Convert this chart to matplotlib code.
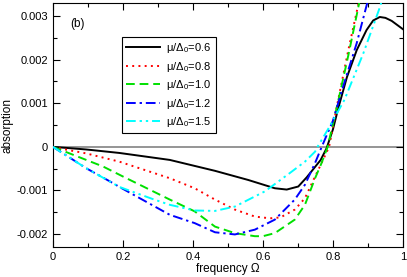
import matplotlib
matplotlib.use("Agg")
import matplotlib.pyplot as plt
from matplotlib.ticker import MultipleLocator, FuncFormatter

plt.rcParams['font.family'] = ['Liberation Sans', 'DejaVu Sans']
plt.rcParams['mathtext.fontset'] = 'custom'
plt.rcParams['mathtext.rm'] = 'Liberation Sans'
plt.rcParams['mathtext.it'] = 'Liberation Sans:italic'
plt.rcParams['axes.unicode_minus'] = False

labels = ['0.6', '0.8', '1.0', '1.2', '1.5']

x_06 = [0, 0.095, 0.19, 0.334, 0.463, 0.558, 0.634, 0.668, 0.701, 0.725, 0.745,
        0.765, 0.782, 0.80, 0.815, 0.84, 0.868, 0.896, 0.915, 0.934, 0.95, 0.968, 1.0]
y_06 = [0, -0.00006, -0.00014, -0.0003, -0.00055, -0.00076, -0.00095, -0.00098,
        -0.00091, -0.0007, -0.0005, -0.0003, -0.00003, 0.0004, 0.00088, 0.0016,
        0.00222, 0.00268, 0.0029, 0.00298, 0.00296, 0.00289, 0.0027]

x_08 = [0, 0.029, 0.095, 0.19, 0.334, 0.405, 0.463, 0.52, 0.577, 0.62, 0.65, 0.691,
        0.72, 0.749, 0.77, 0.789, 0.815, 0.844, 0.872, 0.88]
y_08 = [0, -0.00005, -0.00015, -0.00034, -0.00072, -0.00095, -0.00121, -0.00144,
        -0.0016, -0.00164, -0.00162, -0.00144, -0.00118, -0.00068, -0.00033, 0.0,
        0.00108, 0.00222, 0.00325, 0.0036]

x_10 = [0, 0.057, 0.143, 0.2, 0.334, 0.405, 0.463, 0.52, 0.577, 0.6, 0.634, 0.691,
        0.72, 0.749, 0.766, 0.785, 0.815, 0.844, 0.875, 0.885]
y_10 = [0, -0.00018, -0.00045, -0.00068, -0.00121, -0.00148, -0.00183, -0.00198,
        -0.00205, -0.00205, -0.00198, -0.00167, -0.00133, -0.00072, -0.0004, 0.0,
        0.00105, 0.0021, 0.0033, 0.0036]

x_12 = [0, 0.029, 0.095, 0.171, 0.19, 0.334, 0.405, 0.463, 0.52, 0.577, 0.634,
        0.691, 0.72, 0.749, 0.768, 0.80, 0.829, 0.868, 0.898, 0.905]
y_12 = [0, -0.00015, -0.00049, -0.00083, -0.00092, -0.00156, -0.00175, -0.00196,
        -0.00201, -0.0019, -0.00167, -0.00121, -0.00087, -0.00037, 0.0, 0.0006,
        0.00138, 0.00238, 0.0033, 0.0035]

x_15 = [0, 0.029, 0.095, 0.19, 0.286, 0.334, 0.405, 0.463, 0.52, 0.606, 0.677,
        0.72, 0.749, 0.756, 0.785, 0.833, 0.887, 0.934, 0.945]
y_15 = [0, -0.00015, -0.00049, -0.00092, -0.0012, -0.00133, -0.00146, -0.00147,
        -0.00137, -0.00102, -0.0006, -0.00034, -0.00011, 0.0, 0.00039, 0.00108,
        0.00215, 0.0032, 0.0035]

fig = plt.figure(figsize=(4.07, 2.77), dpi=100)
ax = fig.add_axes([0.130, 0.108, 0.860, 0.881])

ax.axhline(0, color='#8c8c8c', lw=1.3, zorder=1)

styles = [
    (x_06, y_06, 'black', '-'),
    (x_08, y_08, 'red', (0, (1, 2.2))),
    (x_10, y_10, '#00e000', (0, (4.5, 2.5))),
    (x_12, y_12, 'blue', (0, (5, 2, 1.2, 2))),
    (x_15, y_15, 'cyan', (0, (5, 2, 1.2, 2, 1.2, 2))),
]
for (xs, ys, c, ls), lab in zip(styles, labels):
    ax.plot(xs, ys, color=c, ls=ls, lw=1.4,
            label=r'μ/Δ$_0$=' + lab, zorder=3)

ax.set_xlim(0, 1)
ax.set_ylim(-0.0023, 0.0033)
ax.xaxis.set_major_locator(MultipleLocator(0.2))
ax.xaxis.set_minor_locator(MultipleLocator(0.1))
ax.yaxis.set_major_locator(MultipleLocator(0.001))
ax.yaxis.set_minor_locator(MultipleLocator(0.0005))
ax.xaxis.set_major_formatter(FuncFormatter(lambda v, p: '0' if abs(v) < 1e-9 else ('1' if abs(v - 1) < 1e-9 else f'{v:.1f}')))
ax.yaxis.set_major_formatter(FuncFormatter(lambda v, p: '0' if abs(v) < 1e-9 else f'{v:.3f}'))
ax.tick_params(which='both', direction='in', top=True, right=True, labelsize=8)
ax.tick_params(which='major', length=5, width=0.8)
ax.tick_params(which='minor', length=3, width=0.8)

ax.set_xlabel('frequency Ω', fontsize=8.5, labelpad=1)
ax.set_ylabel('absorption', fontsize=8.5, labelpad=2)

ax.text(0.071, 0.00282, '(b)', fontsize=8.5, ha='center', va='center')

leg = ax.legend(loc='upper left', bbox_to_anchor=(0.197, 0.862), fontsize=8,
                frameon=True, fancybox=False, edgecolor='black', framealpha=1,
                handlelength=3.0, labelspacing=0.4, borderpad=0.4, handletextpad=0.6,
                borderaxespad=0)
leg.get_frame().set_linewidth(0.8)

fig.savefig('out.png', dpi=100)
